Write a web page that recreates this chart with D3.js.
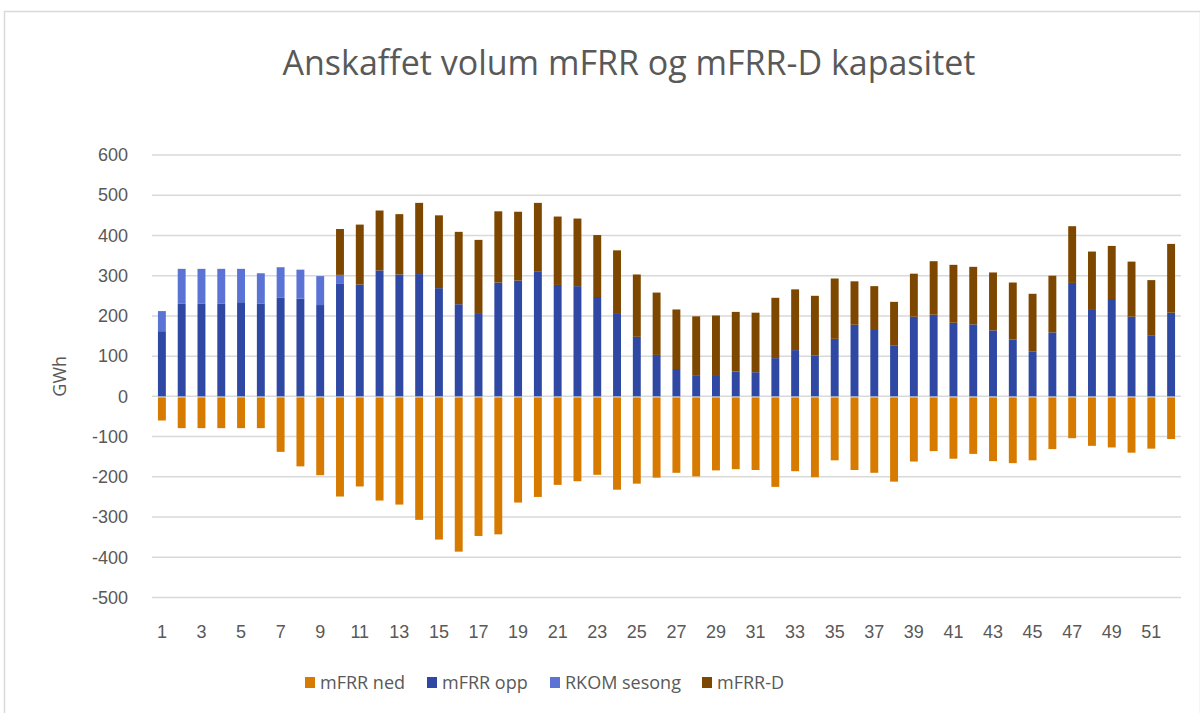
<!DOCTYPE html>
<html>
<head>
<meta charset="utf-8">
<script src="https://cdn.jsdelivr.net/npm/d3@7"></script>
<style>
  body { margin: 0; background: #fff; }
  svg { display: block; font-family: "Open Sans", "Liberation Sans", sans-serif; }
</style>
</head>
<body>
<div id="chart"></div>
<script>
// week numbers 1..52
const weeks = [1,2,3,4,5,6,7,8,9,10,11,12,13,14,15,16,17,18,19,20,21,22,23,24,25,26,
  27,28,29,30,31,32,33,34,35,36,37,38,39,40,41,42,43,44,45,46,47,48,49,50,51,52];

// mFRR ned (negative)
const mfrrNed = [-60,-79,-79,-79,-79,-79,-138,-174,-196,-249,-224,-259,-269,-307,-356,-386,
  -347,-343,-264,-250,-220,-211,-195,-232,-217,-202,-190,-199,-184,-181,-183,-225,-186,-201,
  -159,-183,-190,-212,-162,-136,-155,-143,-161,-166,-159,-131,-104,-123,-127,-140,-130,-106];

// mFRR opp
const mfrrOpp = [162,231,231,231,234,231,246,243,227,281,278,313,303,304,269,229,207,283,288,
  311,277,274,247,207,148,103,68,51,53,62,60,95,115,102,143,178,165,127,198,203,183,179,164,
  141,112,159,282,217,242,198,152,208];

// RKOM sesong
const rkom = [50,86,86,86,83,75,75,72,72,21,0,0,0,0,0,0,0,0,0,0,0,0,0,0,0,0,0,0,0,0,0,0,0,0,
  0,0,0,0,0,0,0,0,0,0,0,0,0,0,0,0,0,0];

// mFRR-D
const mfrrD = [0,0,0,0,0,0,0,0,0,114,149,149,150,177,181,180,182,177,171,170,170,168,154,156,
  155,155,148,148,148,148,148,150,151,148,150,108,109,108,107,133,144,143,144,142,143,141,141,
  143,132,137,137,171];

const yTicks = [-500,-400,-300,-200,-100,0,100,200,300,400,500,600];
const xLabels = weeks.filter(w => w % 2 === 1);

const seriesNames = ["mFRR ned", "mFRR opp", "RKOM sesong", "mFRR-D"];
const colors = {"mFRR ned": "#d67a00", "mFRR opp": "#2e48a3", "RKOM sesong": "#5a73d4", "mFRR-D": "#7e4700"};

const width = 1200, height = 713;
const margin = {top: 155, right: 19, bottom: 115, left: 152};

const svg = d3.select("#chart").append("svg")
  .attr("width", width)
  .attr("height", height);

// chart border
svg.append("rect")
  .attr("x", 4.5).attr("y", 11.5)
  .attr("width", width - 4).attr("height", height - 10)
  .attr("fill", "none")
  .attr("stroke", "#d9d9d9")
  .attr("stroke-width", 1.5);

let x = d3.scaleBand()
  .domain(weeks)
  .range([margin.left, width - margin.right])
  .paddingInner(0.6)
  .paddingOuter(0.3);

let y = d3.scaleLinear()
  .domain([-500, 600])
  .range([height - margin.bottom - 0.5, margin.top]);

// gridlines
svg.append("g")
  .selectAll("line")
  .data(yTicks)
  .enter().append("line")
    .attr("x1", margin.left)
    .attr("x2", width - margin.right)
    .attr("y1", d => y(d))
    .attr("y2", d => y(d))
    .attr("stroke", "#d9d9d9")
    .attr("stroke-width", 1.5);

// y axis labels (plain hyphen minus like the original)
let yAxis = g => g
  .attr("transform", `translate(${margin.left - 10},0)`)
  .call(d3.axisLeft(y).tickValues(yTicks).tickSize(0).tickPadding(14).tickFormat(d => String(d)))
  .call(g => g.select(".domain").remove())
  .call(g => g.selectAll("text")
    .attr("fill", "#595959")
    .style("font-size", "18px"));
svg.append("g").call(yAxis);

// stacked data: positive segments
let stackData = weeks.map((w, i) => ({week: w, opp: mfrrOpp[i], rkom: rkom[i], d: mfrrD[i], ned: mfrrNed[i]}));
let stack = d3.stack().keys(["opp", "rkom", "d"]);
let layers = stack(stackData);
let keyName = {opp: "mFRR opp", rkom: "RKOM sesong", d: "mFRR-D"};

// negative bars
svg.append("g")
  .selectAll("rect")
  .data(stackData)
  .enter().append("rect")
    .attr("x", d => x(d.week))
    .attr("width", x.bandwidth())
    .attr("y", y(0) + 1)
    .attr("height", d => y(d.ned) - y(0) - 1)
    .attr("fill", colors["mFRR ned"]);

layers.forEach(layer => {
  svg.append("g")
    .selectAll("rect")
    .data(layer.filter(s => s[1] - s[0] > 0))
    .enter().append("rect")
      .attr("x", s => x(s.data.week))
      .attr("width", x.bandwidth())
      .attr("y", s => y(s[1]))
      .attr("height", s => y(s[0]) - y(s[1]))
      .attr("fill", colors[keyName[layer.key]]);
});

// x axis labels
let xAxis = g => g
  .attr("transform", `translate(0,${height - margin.bottom + 19})`)
  .call(d3.axisBottom(x).tickValues(xLabels).tickSize(0).tickPadding(8))
  .call(g => g.select(".domain").remove())
  .call(g => g.selectAll("text")
    .attr("fill", "#595959")
    .style("font-size", "18px"));
svg.append("g").call(xAxis);

// y axis title
svg.append("text")
  .attr("transform", `translate(66,${y(50)}) rotate(-90)`)
  .attr("text-anchor", "middle")
  .attr("fill", "#595959")
  .style("font-size", "18px")
  .text("GWh");

// title
svg.append("text")
  .attr("x", 629)
  .attr("y", 75)
  .attr("text-anchor", "middle")
  .attr("fill", "#595959")
  .style("font-size", "34px")
  .text("Anskaffet volum mFRR og mFRR-D kapasitet");

// legend
let legendX = [305, 427, 550, 702];
let legend = svg.append("g")
  .selectAll("g")
  .data(seriesNames)
  .enter().append("g")
    .attr("transform", (d, i) => `translate(${legendX[i]},683)`);
legend.append("rect")
  .attr("x", 0).attr("y", -6)
  .attr("width", 10).attr("height", 11)
  .attr("fill", d => colors[d]);
legend.append("text")
  .attr("x", 15)
  .attr("y", 0)
  .attr("dy", "0.35em")
  .attr("fill", "#595959")
  .style("font-size", "18px")
  .text(d => d);
</script>
</body>
</html>
